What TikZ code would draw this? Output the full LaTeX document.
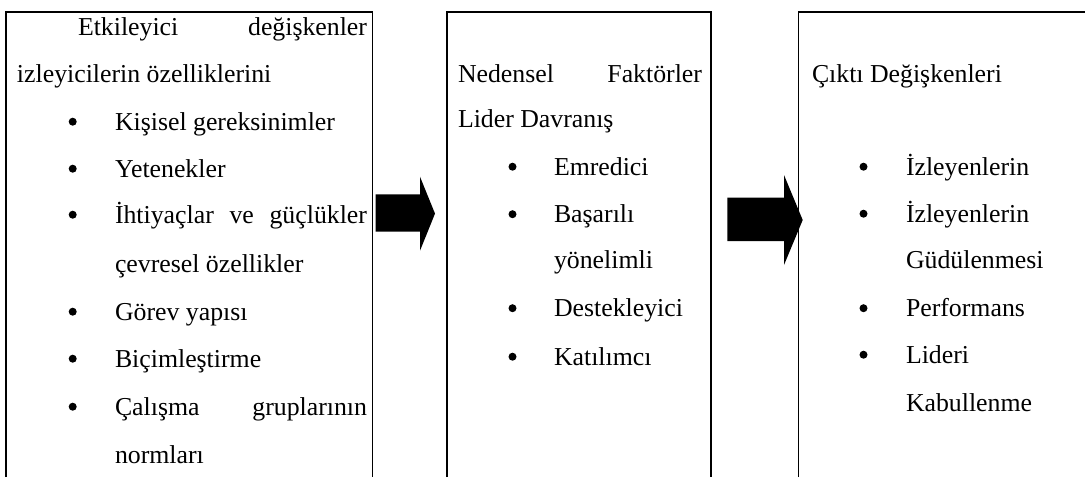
\documentclass[tikz,border=0pt]{standalone}
\usepackage{fontspec}
\newfontfamily\bodyfont{Liberation Serif}
\begin{document}
\begin{tikzpicture}[x=0.5pt,y=-0.5pt,
  txt/.style={anchor=base west,inner sep=0pt,outer sep=0pt,
    font=\bodyfont\fontsize{12.9pt}{15pt}\selectfont},
  bul/.style={circle,fill=black,draw=none,inner sep=0pt,minimum size=4pt,
    yshift=4.15pt},
  frame/.style={line width=0.6pt,black},
  blockarrow/.style={fill=black,draw=none}]
\useasboundingbox (0,0) rectangle (1085,477);

% three columns, open at the bottom
\draw[frame] (6,477) -- (6,12) -- (372.5,12) -- (372.5,477);
\draw[frame] (447,477) -- (447,12) -- (711,12) -- (711,477);
\draw[frame] (798.5,477) -- (798.5,12) -- (1085,12);

% block arrows between the columns
\fill[blockarrow] (375.7,194.3) -- (420,194.3) -- (420,176.7) -- (435,213.6)
  -- (420,250.7) -- (420,231.7) -- (375.7,231.7) -- cycle;
\fill[blockarrow] (727.3,197.7) -- (784,197.7) -- (784,175) -- (802.7,220)
  -- (784,265) -- (784,241) -- (727.3,241) -- cycle;

% first column
\node[txt] (e1) at (78,35) {\makebox[144.5pt][s]{Etkileyici değişkenler}};
\node[txt] (e2) at (17,82) {izleyicilerin özelliklerini};
\node[bul] (b1) at (72.7,130) {};
\node[txt] (e3) at (115,130) {Kişisel gereksinimler};
\node[bul] (b2) at (72.7,177) {};
\node[txt] (e4) at (115,177) {Yetenekler};
\node[bul] (b3) at (72.7,223) {};
\node[txt] (e5) at (115,223) {\makebox[126pt][s]{İhtiyaçlar ve güçlükler}};
\node[txt] (e6) at (115,272) {çevresel özellikler};
\node[bul] (b4) at (72.7,320) {};
\node[txt] (e7) at (115,320) {Görev yapısı};
\node[bul] (b5) at (72.7,367) {};
\node[txt] (e8) at (115,367) {Biçimleştirme};
\node[bul] (b6) at (72.7,415) {};
\node[txt] (e9) at (115,415) {\makebox[126pt][s]{Çalışma gruplarının}};
\node[txt] (e10) at (115,463) {normları};

% second column
\node[txt] (n1) at (458,82) {\makebox[122pt][s]{Nedensel Faktörler}};
\node[txt] (n2) at (458,127.5) {Lider Davranış};
\node[bul] (c1) at (512.5,175) {};
\node[txt] (n3) at (554,175) {Emredici};
\node[bul] (c2) at (512.5,222.5) {};
\node[txt] (n4) at (554,222.5) {Başarılı};
\node[txt] (n5) at (554,268.5) {yönelimli};
\node[bul] (c3) at (512.5,316.5) {};
\node[txt] (n6) at (554,316.5) {Destekleyici};
\node[bul] (c4) at (512.5,365) {};
\node[txt] (n7) at (554,365) {Katılımcı};

% third column
\node[txt] (o1) at (812,82) {Çıktı Değişkenleri};
\node[bul] (d1) at (863.5,175) {};
\node[txt] (o2) at (906,175) {İzleyenlerin};
\node[bul] (d2) at (863.5,222) {};
\node[txt] (o3) at (906,222) {İzleyenlerin};
\node[txt] (o4) at (906,268) {Güdülenmesi};
\node[bul] (d3) at (863.5,316.5) {};
\node[txt] (o5) at (906,316.5) {Performans};
\node[bul] (d4) at (863.5,363) {};
\node[txt] (o6) at (906,363) {Lideri};
\node[txt] (o7) at (906,411.5) {Kabullenme};
\end{tikzpicture}
\end{document}
